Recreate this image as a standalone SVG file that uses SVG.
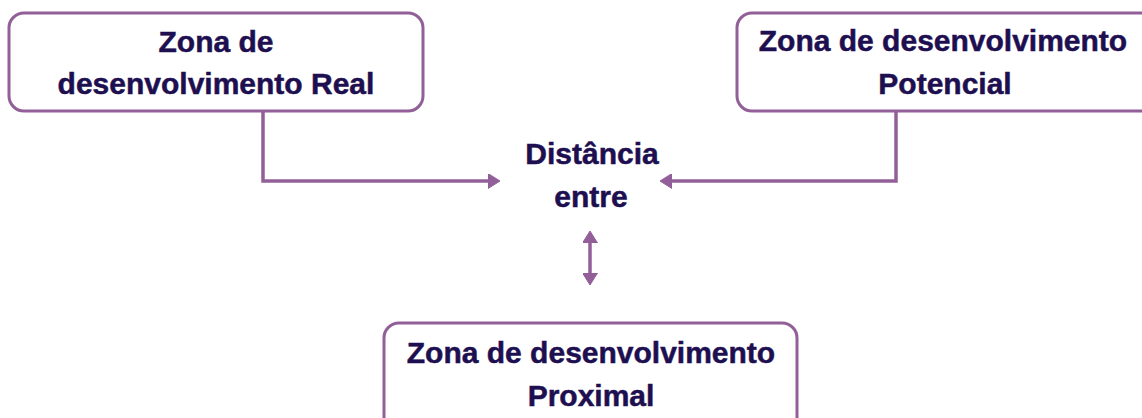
<svg xmlns="http://www.w3.org/2000/svg" width="1142" height="418" viewBox="0 0 1142 418">
<defs>
<style>
.box{fill:#ffffff;stroke:#925f99;stroke-width:3}
.lbl{font-family:"Liberation Sans",Arial,sans-serif;font-weight:bold;font-size:30px;fill:#1e0f50;stroke:#1e0f50;stroke-width:0.5;text-anchor:middle}
.con{fill:none;stroke:#925f99;stroke-width:3.5}
</style>
<marker id="ah" markerUnits="userSpaceOnUse" viewBox="0 0 12 15" refX="0" refY="7.5" markerWidth="12" markerHeight="15" orient="auto-start-reverse">
<path d="M0,0 L12,7.5 L0,15 z" fill="#925f99" stroke="#925f99" stroke-width="1" stroke-linejoin="round"/>
</marker>
</defs>
<rect width="1142" height="418" fill="#ffffff"/>
<g id="connectors">
<path class="con" d="M263,111 V181 H488" marker-end="url(#ah)"/>
<path class="con" d="M896,111 V181 H672" marker-end="url(#ah)"/>
<path class="con" d="M590,243 V273" marker-start="url(#ah)" marker-end="url(#ah)"/>
</g>
<g id="real">
<rect class="box" x="9" y="13" width="414" height="98" rx="15"/>
<text class="lbl" x="216" y="52">Zona de</text>
<text class="lbl" x="216" y="94">desenvolvimento Real</text>
</g>
<g id="potencial">
<rect class="box" x="737" y="13" width="420" height="98" rx="15"/>
<text class="lbl" x="943" y="51">Zona de desenvolvimento</text>
<text class="lbl" x="945" y="94">Potencial</text>
</g>
<g id="distancia">
<text class="lbl" x="592" y="164">Distância</text>
<text class="lbl" x="591" y="207">entre</text>
</g>
<g id="proximal">
<rect class="box" x="384" y="323" width="413" height="110" rx="15"/>
<text class="lbl" x="591" y="363">Zona de desenvolvimento</text>
<text class="lbl" x="591" y="406">Proximal</text>
</g>
</svg>
